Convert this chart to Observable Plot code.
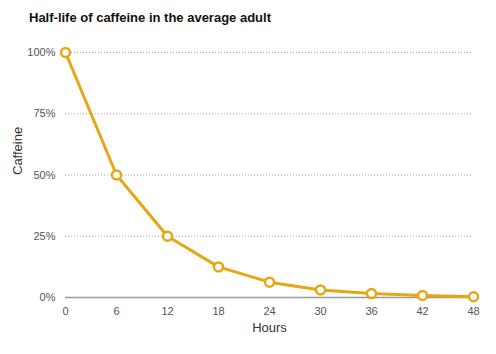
<!DOCTYPE html>
<html>
<head>
<meta charset="utf-8">
<script src="https://cdn.jsdelivr.net/npm/d3@7"></script>
<script src="https://cdn.jsdelivr.net/npm/@observablehq/plot@0.6"></script>
<style>
  body { margin: 0; background: #fff; font-family: "Liberation Sans", Arial, sans-serif; }
  #title { height: 36px; box-sizing: border-box; padding: 10px 0 0 29px; font-weight: bold; font-size: 13px; color: #111; }
</style>
</head>
<body>
<div id="title">Half-life of caffeine in the average adult</div>
<div id="chart"></div>
<script>
const hours = [0, 6, 12, 18, 24, 30, 36, 42, 48];
const caffeine = [100, 50, 25, 12.5, 6.25, 3.1, 1.6, 0.8, 0.3];
const xTicks = [0, 6, 12, 18, 24, 30, 36, 42, 48];
const yTicks = [0, 25, 50, 75, 100];
const xLabel = "Hours";
const yLabel = "Caffeine";

const data = hours.map((h, i) => ({hours: h, caffeine: caffeine[i]}));
const gold = "#E5A712";

const chart = Plot.plot({
  width: 496,
  height: 318,
  marginTop: 16,
  marginBottom: 57,
  marginLeft: 65,
  marginRight: 23,
  style: {fontFamily: "'Liberation Sans', Arial, sans-serif", fontSize: "11px", color: "#555"},
  x: {domain: [0, 48]},
  y: {domain: [0, 100]},
  marks: [
    Plot.gridY(yTicks.filter(d => d > 0), {stroke: "#aaa", strokeOpacity: 1, strokeDasharray: "1,2", strokeWidth: 1}),
    Plot.ruleY([0], {stroke: "#999", strokeWidth: 1.5}),
    Plot.axisX({ticks: xTicks, tickSize: 0, tickPadding: 10, tickFormat: d => String(d), label: null, fontSize: 11}),
    Plot.axisY({ticks: yTicks, tickSize: 0, tickPadding: 10, tickFormat: d => d + "%", label: null, fontSize: 11}),
    Plot.text([xLabel], {frameAnchor: "bottom", dy: 34, fontSize: 13, fill: "#333", text: d => d}),
    Plot.text([yLabel], {frameAnchor: "left", dx: -48, rotate: -90, fontSize: 13, fill: "#333", text: d => d}),
    Plot.line(data, {x: "hours", y: "caffeine", stroke: gold, strokeWidth: 3}),
    Plot.dot(data, {x: "hours", y: "caffeine", r: 4.5, fill: "white", stroke: gold, strokeWidth: 2.5})
  ]
});
document.getElementById("chart").appendChild(chart);
</script>
</body>
</html>
